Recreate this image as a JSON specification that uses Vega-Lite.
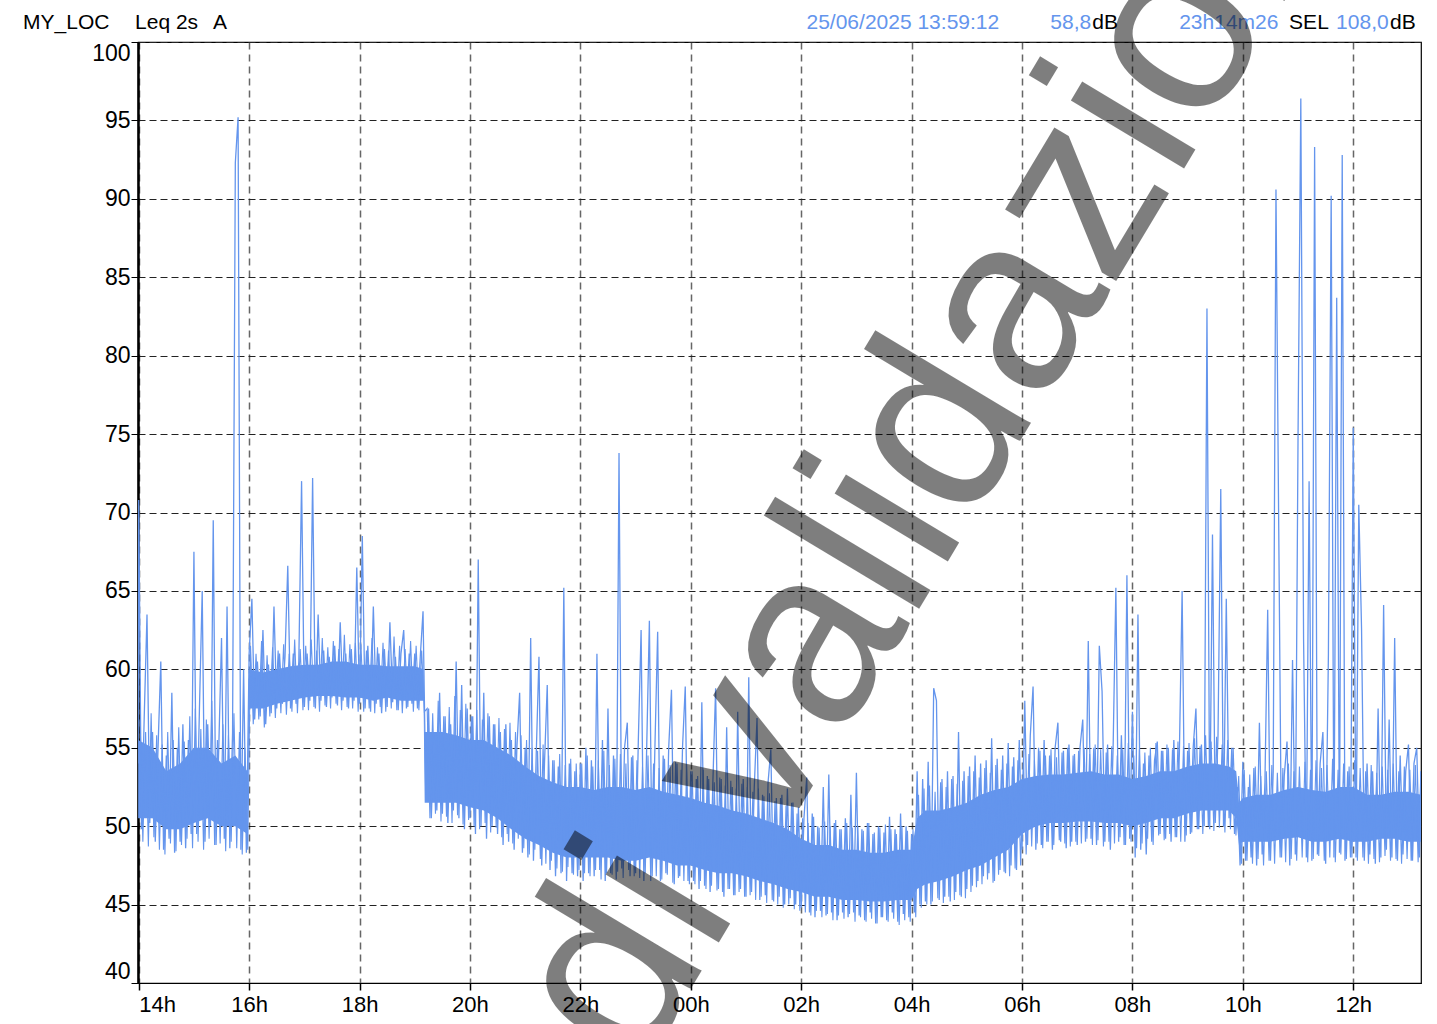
{
  "$schema": "https://vega.github.io/schema/vega-lite/v6.json",
  "width": 1283,
  "height": 941,
  "autosize": {"type": "none"},
  "padding": {"left": 138, "top": 42, "right": 16, "bottom": 41},
  "background": "white",
  "config": {
    "view": {"stroke": "black", "strokeWidth": 1.2},
    "font": "Liberation Sans",
    "text": {"font": "Liberation Sans"}
  },
  "datasets": {
    "core": [
      {"h":13.99,"lo":50.5,"hi":55.5},{"h":14.25,"lo":50.5,"hi":55},{"h":14.5,"lo":49.8,"hi":53.5},{"h":14.75,"lo":49.8,"hi":54},
      {"h":15.0,"lo":50.2,"hi":55},{"h":15.25,"lo":50.5,"hi":55},{"h":15.5,"lo":50,"hi":54},{"h":15.75,"lo":50,"hi":54.5},{"h":15.97,"lo":49.5,"hi":53.5},
      {"h":16.0,"lo":57.5,"hi":60},{"h":16.25,"lo":57.5,"hi":59.8},{"h":16.5,"lo":57.8,"hi":60},{"h":16.75,"lo":58,"hi":60.2},
      {"h":17.0,"lo":58.2,"hi":60.3},{"h":17.25,"lo":58.3,"hi":60.3},{"h":17.5,"lo":58.3,"hi":60.5},{"h":17.75,"lo":58.2,"hi":60.5},
      {"h":18.0,"lo":58.2,"hi":60.3},{"h":18.25,"lo":58,"hi":60.3},{"h":18.5,"lo":58.2,"hi":60.2},{"h":18.75,"lo":58,"hi":60.2},
      {"h":19.0,"lo":58,"hi":60.2},{"h":19.16,"lo":58,"hi":60},{"h":19.18,"lo":51.5,"hi":56},{"h":19.5,"lo":51.5,"hi":56},{"h":19.75,"lo":51.5,"hi":55.8},
      {"h":20.0,"lo":51.2,"hi":55.5},{"h":20.25,"lo":51,"hi":55.5},{"h":20.5,"lo":50.5,"hi":55},{"h":20.75,"lo":49.8,"hi":54.5},
      {"h":21.0,"lo":49.2,"hi":53.8},{"h":21.25,"lo":48.8,"hi":53.2},{"h":21.5,"lo":48.3,"hi":52.8},{"h":21.75,"lo":48,"hi":52.5},
      {"h":22.0,"lo":48,"hi":52.5},{"h":22.25,"lo":48,"hi":52.3},{"h":22.5,"lo":48,"hi":52.5},{"h":22.75,"lo":47.8,"hi":52.5},
      {"h":23.0,"lo":47.8,"hi":52.3},{"h":23.25,"lo":48,"hi":52.5},{"h":23.5,"lo":47.8,"hi":52.2},{"h":23.75,"lo":47.5,"hi":52},
      {"h":24.0,"lo":47.5,"hi":51.8},{"h":24.25,"lo":47.2,"hi":51.5},{"h":24.5,"lo":47,"hi":51.3},{"h":24.75,"lo":47,"hi":51},
      {"h":25.0,"lo":46.8,"hi":50.8},{"h":25.25,"lo":46.5,"hi":50.5},{"h":25.5,"lo":46.3,"hi":50.2},{"h":25.75,"lo":46,"hi":49.8},
      {"h":26.0,"lo":45.8,"hi":49.2},{"h":26.25,"lo":45.5,"hi":48.8},{"h":26.5,"lo":45.5,"hi":48.8},{"h":26.75,"lo":45.3,"hi":48.5},
      {"h":27.0,"lo":45.3,"hi":48.5},{"h":27.25,"lo":45.2,"hi":48.3},{"h":27.5,"lo":45.2,"hi":48.3},{"h":27.75,"lo":45.3,"hi":48.5},
      {"h":28.0,"lo":45.3,"hi":48.5},{"h":28.1,"lo":46,"hi":50.5},{"h":28.25,"lo":46.3,"hi":51},{"h":28.5,"lo":46.5,"hi":51},{"h":28.75,"lo":46.8,"hi":51.2},
      {"h":29.0,"lo":47.2,"hi":51.5},{"h":29.25,"lo":47.5,"hi":52},{"h":29.5,"lo":48,"hi":52.3},{"h":29.75,"lo":48.5,"hi":52.5},
      {"h":30.0,"lo":49.5,"hi":53},{"h":30.25,"lo":50,"hi":53.2},{"h":30.5,"lo":50.2,"hi":53.3},{"h":30.75,"lo":50.2,"hi":53.3},
      {"h":31.0,"lo":50.3,"hi":53.4},{"h":31.25,"lo":50.3,"hi":53.5},{"h":31.5,"lo":50.2,"hi":53.3},{"h":31.75,"lo":50.2,"hi":53.3},
      {"h":32.0,"lo":50,"hi":53},{"h":32.25,"lo":50.2,"hi":53.2},{"h":32.5,"lo":50.5,"hi":53.5},{"h":32.75,"lo":50.5,"hi":53.5},
      {"h":33.0,"lo":50.8,"hi":53.8},{"h":33.25,"lo":51,"hi":54},{"h":33.5,"lo":51,"hi":54},{"h":33.75,"lo":51,"hi":53.8},{"h":33.88,"lo":50.5,"hi":53.5},
      {"h":33.93,"lo":48.8,"hi":51.5},{"h":34.0,"lo":49,"hi":51.8},{"h":34.25,"lo":49,"hi":52},{"h":34.5,"lo":49,"hi":52},{"h":34.75,"lo":49.2,"hi":52.3},
      {"h":35.0,"lo":49.3,"hi":52.5},{"h":35.25,"lo":49,"hi":52.3},{"h":35.5,"lo":49,"hi":52.2},{"h":35.75,"lo":49.2,"hi":52.5},
      {"h":36.0,"lo":49,"hi":52.5},{"h":36.25,"lo":49,"hi":52},{"h":36.5,"lo":49.2,"hi":52},{"h":36.75,"lo":49.2,"hi":52.2},
      {"h":37.0,"lo":49,"hi":52.2},{"h":37.227,"lo":49,"hi":52}
    ],
    "fringe": [
      {"h":14.025,"v":56.8},{"h":14.075,"v":49},{"h":14.125,"v":56},{"h":14.175,"v":48.7},{"h":14.225,"v":57.2},{"h":14.275,"v":49.3},{"h":14.325,"v":55.8},{"h":14.375,"v":48.5},{"h":14.425,"v":55.2},{"h":14.475,"v":48.2},{"h":14.525,"v":56},{"h":14.575,"v":48.9},{"h":14.625,"v":55.5},{"h":14.675,"v":48.4},{"h":14.725,"v":56.3},{"h":14.775,"v":48.8},{"h":14.825,"v":55.4},{"h":14.875,"v":49.2},{"h":14.925,"v":57},{"h":14.975,"v":48.6},
      {"h":15.025,"v":57.5},{"h":15.075,"v":49},{"h":15.125,"v":56.2},{"h":15.175,"v":48.5},{"h":15.225,"v":56.8},{"h":15.275,"v":49.2},{"h":15.325,"v":58},{"h":15.375,"v":48.8},{"h":15.425,"v":55.5},{"h":15.475,"v":48.9},{"h":15.525,"v":56.5},{"h":15.575,"v":48.4},{"h":15.625,"v":55.8},{"h":15.675,"v":49},{"h":15.725,"v":57.2},{"h":15.775,"v":48.6},{"h":15.825,"v":56},{"h":15.875,"v":48.2},{"h":15.925,"v":55},{"h":15.975,"v":48.5},
      {"h":16.025,"v":61.5},{"h":16.075,"v":56.5},{"h":16.125,"v":61},{"h":16.175,"v":56.8},{"h":16.225,"v":61.8},{"h":16.275,"v":56.3},{"h":16.325,"v":60.9},{"h":16.375,"v":57},{"h":16.425,"v":61.4},{"h":16.475,"v":56.9},{"h":16.525,"v":61.2},{"h":16.575,"v":57.2},{"h":16.625,"v":61.6},{"h":16.675,"v":57.1},{"h":16.725,"v":61},{"h":16.775,"v":57.3},{"h":16.825,"v":61.9},{"h":16.875,"v":57.2},{"h":16.925,"v":61.3},{"h":16.975,"v":57.4},
      {"h":17.025,"v":61.5},{"h":17.075,"v":57.4},{"h":17.125,"v":61.9},{"h":17.175,"v":57.6},{"h":17.225,"v":61.2},{"h":17.275,"v":57.3},{"h":17.325,"v":62},{"h":17.375,"v":57.7},{"h":17.425,"v":61.4},{"h":17.475,"v":57.5},{"h":17.525,"v":61.8},{"h":17.575,"v":57.8},{"h":17.625,"v":61.3},{"h":17.675,"v":57.4},{"h":17.725,"v":62.2},{"h":17.775,"v":57.6},{"h":17.825,"v":61.6},{"h":17.875,"v":57.5},{"h":17.925,"v":61.7},{"h":17.975,"v":57.3},
      {"h":18.025,"v":61.6},{"h":18.075,"v":57.3},{"h":18.125,"v":61.2},{"h":18.175,"v":57.5},{"h":18.225,"v":62},{"h":18.275,"v":57.2},{"h":18.325,"v":61.4},{"h":18.375,"v":57.6},{"h":18.425,"v":61.7},{"h":18.475,"v":57.3},{"h":18.525,"v":61.2},{"h":18.575,"v":57.5},{"h":18.625,"v":62.1},{"h":18.675,"v":57.4},{"h":18.725,"v":61.5},{"h":18.775,"v":57.2},{"h":18.825,"v":61.3},{"h":18.875,"v":57.6},{"h":18.925,"v":61.8},{"h":18.975,"v":57.3},
      {"h":19.025,"v":61.5},{"h":19.075,"v":57.4},{"h":19.125,"v":61.2},{"h":19.175,"v":57.3},{"h":19.225,"v":57.5},{"h":19.275,"v":50.5},{"h":19.325,"v":57.2},{"h":19.375,"v":50.8},{"h":19.425,"v":58},{"h":19.475,"v":50.3},{"h":19.525,"v":57},{"h":19.575,"v":50.6},{"h":19.625,"v":57.6},{"h":19.675,"v":50.2},{"h":19.725,"v":58.3},{"h":19.775,"v":50.7},{"h":19.825,"v":57.4},{"h":19.875,"v":50.1},{"h":19.925,"v":57.8},{"h":19.975,"v":50.4},
      {"h":20.025,"v":57},{"h":20.075,"v":50},{"h":20.125,"v":57.4},{"h":20.175,"v":49.8},{"h":20.225,"v":56.8},{"h":20.275,"v":50.2},{"h":20.325,"v":57.2},{"h":20.375,"v":49.6},{"h":20.425,"v":56.5},{"h":20.475,"v":49.9},{"h":20.525,"v":56.9},{"h":20.575,"v":49.3},{"h":20.625,"v":56.2},{"h":20.675,"v":49.5},{"h":20.725,"v":56.6},{"h":20.775,"v":48.9},{"h":20.825,"v":56},{"h":20.875,"v":49.2},{"h":20.925,"v":55.8},{"h":20.975,"v":48.6},
      {"h":21.025,"v":55.5},{"h":21.075,"v":48.2},{"h":21.125,"v":55},{"h":21.175,"v":48.5},{"h":21.225,"v":54.8},{"h":21.275,"v":47.9},{"h":21.325,"v":55.2},{"h":21.375,"v":47.6},{"h":21.425,"v":54.5},{"h":21.475,"v":47.8},{"h":21.525,"v":54.2},{"h":21.575,"v":47.3},{"h":21.625,"v":54.6},{"h":21.675,"v":47.1},{"h":21.725,"v":53.9},{"h":21.775,"v":47.4},{"h":21.825,"v":54.3},{"h":21.875,"v":46.9},{"h":21.925,"v":54},{"h":21.975,"v":47.2},
      {"h":22.025,"v":54},{"h":22.075,"v":47},{"h":22.125,"v":54.5},{"h":22.175,"v":46.8},{"h":22.225,"v":53.8},{"h":22.275,"v":47.2},{"h":22.325,"v":54.2},{"h":22.375,"v":46.6},{"h":22.425,"v":54.8},{"h":22.475,"v":47},{"h":22.525,"v":53.9},{"h":22.575,"v":46.9},{"h":22.625,"v":54.3},{"h":22.675,"v":47.1},{"h":22.725,"v":54.6},{"h":22.775,"v":46.7},{"h":22.825,"v":54},{"h":22.875,"v":47.2},{"h":22.925,"v":54.4},{"h":22.975,"v":46.8},
      {"h":23.025,"v":54.2},{"h":23.075,"v":46.7},{"h":23.125,"v":53.8},{"h":23.175,"v":47},{"h":23.225,"v":54.5},{"h":23.275,"v":46.5},{"h":23.325,"v":54},{"h":23.375,"v":46.8},{"h":23.425,"v":53.7},{"h":23.475,"v":46.6},{"h":23.525,"v":54.3},{"h":23.575,"v":46.9},{"h":23.625,"v":53.9},{"h":23.675,"v":46.4},{"h":23.725,"v":54.1},{"h":23.775,"v":46.7},{"h":23.825,"v":53.6},{"h":23.875,"v":46.5},{"h":23.925,"v":53.9},{"h":23.975,"v":46.3},
      {"h":24.025,"v":53.5},{"h":24.075,"v":46.3},{"h":24.125,"v":53.2},{"h":24.175,"v":46.5},{"h":24.225,"v":53.6},{"h":24.275,"v":46},{"h":24.325,"v":53},{"h":24.375,"v":46.2},{"h":24.425,"v":52.8},{"h":24.475,"v":45.9},{"h":24.525,"v":53.1},{"h":24.575,"v":45.8},{"h":24.625,"v":52.6},{"h":24.675,"v":46},{"h":24.725,"v":52.9},{"h":24.775,"v":45.6},{"h":24.825,"v":52.4},{"h":24.875,"v":45.8},{"h":24.925,"v":52.7},{"h":24.975,"v":45.5},
      {"h":25.025,"v":52.5},{"h":25.075,"v":45.6},{"h":25.125,"v":52.2},{"h":25.175,"v":45.3},{"h":25.225,"v":52.4},{"h":25.275,"v":45.5},{"h":25.325,"v":51.9},{"h":25.375,"v":45.1},{"h":25.425,"v":52.1},{"h":25.475,"v":45.3},{"h":25.525,"v":51.6},{"h":25.575,"v":45},{"h":25.625,"v":51.8},{"h":25.675,"v":44.8},{"h":25.725,"v":51.3},{"h":25.775,"v":45},{"h":25.825,"v":51.5},{"h":25.875,"v":44.7},{"h":25.925,"v":50.8},{"h":25.975,"v":44.6},
      {"h":26.025,"v":50.5},{"h":26.075,"v":44.5},{"h":26.125,"v":50.2},{"h":26.175,"v":44.3},{"h":26.225,"v":50.6},{"h":26.275,"v":44.6},{"h":26.325,"v":49.9},{"h":26.375,"v":44.2},{"h":26.425,"v":50.3},{"h":26.475,"v":44.4},{"h":26.525,"v":50},{"h":26.575,"v":44},{"h":26.625,"v":50.4},{"h":26.675,"v":44.3},{"h":26.725,"v":49.8},{"h":26.775,"v":44.1},{"h":26.825,"v":50.2},{"h":26.875,"v":44.4},{"h":26.925,"v":49.9},{"h":26.975,"v":43.9},
      {"h":27.025,"v":50},{"h":27.075,"v":44.2},{"h":27.125,"v":49.7},{"h":27.175,"v":43.9},{"h":27.225,"v":50.2},{"h":27.275,"v":44.1},{"h":27.325,"v":49.6},{"h":27.375,"v":43.8},{"h":27.425,"v":49.9},{"h":27.475,"v":44.2},{"h":27.525,"v":50.1},{"h":27.575,"v":43.9},{"h":27.625,"v":49.8},{"h":27.675,"v":44.1},{"h":27.725,"v":49.5},{"h":27.775,"v":43.7},{"h":27.825,"v":50},{"h":27.875,"v":44},{"h":27.925,"v":49.7},{"h":27.975,"v":43.9},
      {"h":28.025,"v":49.8},{"h":28.075,"v":44.2},{"h":28.125,"v":52},{"h":28.175,"v":44.8},{"h":28.225,"v":52.4},{"h":28.275,"v":45},{"h":28.325,"v":52.6},{"h":28.375,"v":45.2},{"h":28.425,"v":52.2},{"h":28.475,"v":45.4},{"h":28.525,"v":52.8},{"h":28.575,"v":45.1},{"h":28.625,"v":52.5},{"h":28.675,"v":45.5},{"h":28.725,"v":53},{"h":28.775,"v":45.3},{"h":28.825,"v":52.7},{"h":28.875,"v":45.6},{"h":28.925,"v":52.9},{"h":28.975,"v":45.4},
      {"h":29.025,"v":53.2},{"h":29.075,"v":45.8},{"h":29.125,"v":53.5},{"h":29.175,"v":46.1},{"h":29.225,"v":53.1},{"h":29.275,"v":46.3},{"h":29.325,"v":53.7},{"h":29.375,"v":46.6},{"h":29.425,"v":53.4},{"h":29.475,"v":46.4},{"h":29.525,"v":53.9},{"h":29.575,"v":46.9},{"h":29.625,"v":53.6},{"h":29.675,"v":47.1},{"h":29.725,"v":54},{"h":29.775,"v":46.8},{"h":29.825,"v":53.8},{"h":29.875,"v":47.3},{"h":29.925,"v":54.2},{"h":29.975,"v":47.5},
      {"h":30.025,"v":54.3},{"h":30.075,"v":48.2},{"h":30.125,"v":54.6},{"h":30.175,"v":48.7},{"h":30.225,"v":54.2},{"h":30.275,"v":48.9},{"h":30.325,"v":54.8},{"h":30.375,"v":48.6},{"h":30.425,"v":54.5},{"h":30.475,"v":49},{"h":30.525,"v":54.9},{"h":30.575,"v":48.8},{"h":30.625,"v":54.4},{"h":30.675,"v":49.1},{"h":30.725,"v":54.7},{"h":30.775,"v":48.9},{"h":30.825,"v":55},{"h":30.875,"v":48.7},{"h":30.925,"v":54.5},{"h":30.975,"v":49},
      {"h":31.025,"v":54.8},{"h":31.075,"v":48.9},{"h":31.125,"v":55},{"h":31.175,"v":49.2},{"h":31.225,"v":54.6},{"h":31.275,"v":48.8},{"h":31.325,"v":55.2},{"h":31.375,"v":49.1},{"h":31.425,"v":54.9},{"h":31.475,"v":48.7},{"h":31.525,"v":54.7},{"h":31.575,"v":49},{"h":31.625,"v":55.1},{"h":31.675,"v":48.9},{"h":31.725,"v":54.5},{"h":31.775,"v":49.3},{"h":31.825,"v":54.9},{"h":31.875,"v":48.8},{"h":31.925,"v":55.3},{"h":31.975,"v":49},
      {"h":32.025,"v":54.5},{"h":32.075,"v":48.6},{"h":32.125,"v":54.9},{"h":32.175,"v":48.9},{"h":32.225,"v":54.7},{"h":32.275,"v":49.2},{"h":32.325,"v":55},{"h":32.375,"v":48.8},{"h":32.425,"v":55.3},{"h":32.475,"v":49.4},{"h":32.525,"v":54.8},{"h":32.575,"v":49.1},{"h":32.625,"v":55.2},{"h":32.675,"v":49.5},{"h":32.725,"v":54.9},{"h":32.775,"v":49.3},{"h":32.825,"v":55.4},{"h":32.875,"v":49},{"h":32.925,"v":55.1},{"h":32.975,"v":49.4},
      {"h":33.025,"v":55.3},{"h":33.075,"v":49.6},{"h":33.125,"v":55.6},{"h":33.175,"v":49.8},{"h":33.225,"v":55.1},{"h":33.275,"v":49.5},{"h":33.325,"v":55.8},{"h":33.375,"v":50},{"h":33.425,"v":55.4},{"h":33.475,"v":49.7},{"h":33.525,"v":55.7},{"h":33.575,"v":49.9},{"h":33.625,"v":55.2},{"h":33.675,"v":49.6},{"h":33.725,"v":55.5},{"h":33.775,"v":49.8},{"h":33.825,"v":55},{"h":33.875,"v":49.4},{"h":33.925,"v":53.2},{"h":33.975,"v":47.6},
      {"h":34.025,"v":53.6},{"h":34.075,"v":47.8},{"h":34.125,"v":53.3},{"h":34.175,"v":47.6},{"h":34.225,"v":53.8},{"h":34.275,"v":47.9},{"h":34.325,"v":53.2},{"h":34.375,"v":47.5},{"h":34.425,"v":53.5},{"h":34.475,"v":47.8},{"h":34.525,"v":53.9},{"h":34.575,"v":47.6},{"h":34.625,"v":53.4},{"h":34.675,"v":48},{"h":34.725,"v":53.7},{"h":34.775,"v":47.7},{"h":34.825,"v":54},{"h":34.875,"v":47.9},{"h":34.925,"v":53.5},{"h":34.975,"v":47.8},
      {"h":35.025,"v":53.8},{"h":35.075,"v":48},{"h":35.125,"v":54.1},{"h":35.175,"v":47.7},{"h":35.225,"v":53.6},{"h":35.275,"v":47.9},{"h":35.325,"v":54.2},{"h":35.375,"v":48.1},{"h":35.425,"v":53.7},{"h":35.475,"v":47.8},{"h":35.525,"v":53.9},{"h":35.575,"v":48},{"h":35.625,"v":54.3},{"h":35.675,"v":47.7},{"h":35.725,"v":53.6},{"h":35.775,"v":48.2},{"h":35.825,"v":54},{"h":35.875,"v":47.9},{"h":35.925,"v":53.8},{"h":35.975,"v":48},
      {"h":36.025,"v":54.2},{"h":36.075,"v":47.8},{"h":36.125,"v":53.7},{"h":36.175,"v":48},{"h":36.225,"v":53.5},{"h":36.275,"v":47.6},{"h":36.325,"v":53.9},{"h":36.375,"v":47.9},{"h":36.425,"v":53.4},{"h":36.475,"v":47.7},{"h":36.525,"v":53.8},{"h":36.575,"v":48.1},{"h":36.625,"v":53.6},{"h":36.675,"v":47.8},{"h":36.725,"v":54},{"h":36.775,"v":47.9},{"h":36.825,"v":53.5},{"h":36.875,"v":47.6},{"h":36.925,"v":53.8},{"h":36.975,"v":47.9},
      {"h":37.025,"v":53.6},{"h":37.075,"v":47.8},{"h":37.125,"v":53.9},{"h":37.175,"v":47.7},{"h":37.225,"v":53.5}
    ],
    "series": [
      {"h":13.99,"v":54},
      {"h":14.00,"v":70.8},{"h":14.05,"v":49.8},{"h":14.10,"v":57},{"h":14.15,"v":63.5},{"h":14.20,"v":50.2},{"h":14.25,"v":56},{"h":14.30,"v":49},{"h":14.35,"v":55},{"h":14.40,"v":60.5},{"h":14.45,"v":48.5},{"h":14.50,"v":54.5},{"h":14.55,"v":49.2},{"h":14.60,"v":58.5},{"h":14.65,"v":48.3},{"h":14.70,"v":55},{"h":14.75,"v":49},{"h":14.80,"v":56.5},{"h":14.85,"v":48.6},{"h":14.90,"v":55.5},{"h":14.95,"v":49.5},
      {"h":15.00,"v":67.5},{"h":15.05,"v":49.5},{"h":15.10,"v":57.5},{"h":15.15,"v":65},{"h":15.20,"v":49},{"h":15.25,"v":56.5},{"h":15.30,"v":50},{"h":15.35,"v":69.5},{"h":15.40,"v":48.8},{"h":15.45,"v":55},{"h":15.50,"v":62},{"h":15.55,"v":49.2},{"h":15.60,"v":64},{"h":15.65,"v":48.6},{"h":15.70,"v":56},{"h":15.75,"v":92.3},{"h":15.80,"v":95.2},{"h":15.85,"v":48.5},{"h":15.90,"v":60},{"h":15.95,"v":48.3},
      {"h":16.00,"v":61},{"h":16.05,"v":64.5},{"h":16.10,"v":56.8},{"h":16.15,"v":60.5},{"h":16.20,"v":57},{"h":16.25,"v":62.5},{"h":16.30,"v":56.5},{"h":16.35,"v":60.3},{"h":16.40,"v":57.2},{"h":16.45,"v":64},{"h":16.50,"v":57.5},{"h":16.55,"v":61},{"h":16.60,"v":57.8},{"h":16.65,"v":60.8},{"h":16.70,"v":66.6},{"h":16.75,"v":57.5},{"h":16.80,"v":61},{"h":16.85,"v":57.8},{"h":16.90,"v":60.5},{"h":16.95,"v":72},
      {"h":17.00,"v":57.6},{"h":17.05,"v":61},{"h":17.10,"v":58},{"h":17.15,"v":72.2},{"h":17.20,"v":57.5},{"h":17.25,"v":63.5},{"h":17.30,"v":58},{"h":17.35,"v":61.2},{"h":17.40,"v":57.6},{"h":17.45,"v":60.8},{"h":17.50,"v":58.2},{"h":17.55,"v":61.5},{"h":17.60,"v":57.7},{"h":17.65,"v":63},{"h":17.70,"v":58},{"h":17.75,"v":61},{"h":17.80,"v":57.5},{"h":17.85,"v":61.3},{"h":17.90,"v":58},{"h":17.95,"v":66.5},
      {"h":18.00,"v":57.8},{"h":18.05,"v":68.5},{"h":18.10,"v":57.5},{"h":18.15,"v":61.5},{"h":18.20,"v":57.3},{"h":18.25,"v":64},{"h":18.30,"v":57.8},{"h":18.35,"v":61},{"h":18.40,"v":57.2},{"h":18.45,"v":61.3},{"h":18.50,"v":57.6},{"h":18.55,"v":63},{"h":18.60,"v":57.9},{"h":18.65,"v":60.8},{"h":18.70,"v":57.4},{"h":18.75,"v":61},{"h":18.80,"v":62.5},{"h":18.85,"v":57.5},{"h":18.90,"v":61},{"h":18.95,"v":57.8},
      {"h":19.00,"v":61},{"h":19.05,"v":57.5},{"h":19.10,"v":60.8},{"h":19.15,"v":63.7},{"h":19.20,"v":52},{"h":19.25,"v":57.5},{"h":19.30,"v":50.5},{"h":19.35,"v":56},{"h":19.40,"v":51},{"h":19.45,"v":58.5},{"h":19.50,"v":50.8},{"h":19.55,"v":57},{"h":19.60,"v":50.2},{"h":19.65,"v":56.5},{"h":19.70,"v":51},{"h":19.75,"v":60.5},{"h":19.80,"v":50.5},{"h":19.85,"v":59},{"h":19.90,"v":49.8},{"h":19.95,"v":57.5},
      {"h":20.00,"v":50.5},{"h":20.05,"v":57},{"h":20.10,"v":49.5},{"h":20.15,"v":67},{"h":20.20,"v":50},{"h":20.25,"v":58.5},{"h":20.30,"v":49.2},{"h":20.35,"v":57},{"h":20.40,"v":50},{"h":20.45,"v":56.5},{"h":20.50,"v":49.5},{"h":20.55,"v":56},{"h":20.60,"v":48.8},{"h":20.65,"v":56.5},{"h":20.70,"v":49},{"h":20.75,"v":55.5},{"h":20.80,"v":48.5},{"h":20.85,"v":55},{"h":20.90,"v":58.5},{"h":20.95,"v":48.3},
      {"h":21.00,"v":55},{"h":21.05,"v":48},{"h":21.10,"v":62},{"h":21.15,"v":47.8},{"h":21.20,"v":54.5},{"h":21.25,"v":60.8},{"h":21.30,"v":47.5},{"h":21.35,"v":54},{"h":21.40,"v":59},{"h":21.45,"v":47.2},{"h":21.50,"v":54.2},{"h":21.55,"v":46.8},{"h":21.60,"v":53.8},{"h":21.65,"v":47},{"h":21.70,"v":65.2},{"h":21.75,"v":46.5},{"h":21.80,"v":54},{"h":21.85,"v":47},{"h":21.90,"v":53.5},{"h":21.95,"v":46.8},
      {"h":22.00,"v":54},{"h":22.05,"v":46.5},{"h":22.10,"v":55},{"h":22.15,"v":47},{"h":22.20,"v":54.2},{"h":22.25,"v":46.8},{"h":22.30,"v":61},{"h":22.35,"v":47.2},{"h":22.40,"v":55.5},{"h":22.45,"v":46.5},{"h":22.50,"v":57.5},{"h":22.55,"v":47},{"h":22.60,"v":54.5},{"h":22.65,"v":46.6},{"h":22.70,"v":73.8},{"h":22.75,"v":47.3},{"h":22.80,"v":55},{"h":22.85,"v":56.6},{"h":22.90,"v":46.8},{"h":22.95,"v":54.5},
      {"h":23.00,"v":47},{"h":23.05,"v":55.5},{"h":23.10,"v":62.5},{"h":23.15,"v":46.5},{"h":23.20,"v":54.8},{"h":23.25,"v":63.1},{"h":23.30,"v":46.8},{"h":23.35,"v":55},{"h":23.40,"v":62.4},{"h":23.45,"v":46.5},{"h":23.50,"v":54.5},{"h":23.55,"v":47},{"h":23.60,"v":55},{"h":23.65,"v":58.7},{"h":23.70,"v":46.3},{"h":23.75,"v":54},{"h":23.80,"v":46.8},{"h":23.85,"v":55},{"h":23.90,"v":58.9},{"h":23.95,"v":46.5},
      {"h":24.00,"v":53.5},{"h":24.05,"v":46.5},{"h":24.10,"v":53},{"h":24.15,"v":46},{"h":24.20,"v":57.9},{"h":24.25,"v":46.2},{"h":24.30,"v":53.2},{"h":24.35,"v":45.8},{"h":24.40,"v":52.8},{"h":24.45,"v":58.8},{"h":24.50,"v":46},{"h":24.55,"v":53},{"h":24.60,"v":45.5},{"h":24.65,"v":56.3},{"h":24.70,"v":46},{"h":24.75,"v":52.5},{"h":24.80,"v":45.6},{"h":24.85,"v":57.3},{"h":24.90,"v":46},{"h":24.95,"v":53},
      {"h":25.00,"v":45.5},{"h":25.05,"v":59.5},{"h":25.10,"v":45.8},{"h":25.15,"v":52.5},{"h":25.20,"v":56.9},{"h":25.25,"v":45.3},{"h":25.30,"v":52},{"h":25.35,"v":45.6},{"h":25.40,"v":52.8},{"h":25.45,"v":54.9},{"h":25.50,"v":45.2},{"h":25.55,"v":51.8},{"h":25.60,"v":45.5},{"h":25.65,"v":52},{"h":25.70,"v":45},{"h":25.75,"v":52.4},{"h":25.80,"v":45.4},{"h":25.85,"v":51.5},{"h":25.90,"v":45},{"h":25.95,"v":51.2},
      {"h":26.00,"v":44.8},{"h":26.05,"v":50.5},{"h":26.10,"v":53.1},{"h":26.15,"v":44.5},{"h":26.20,"v":50.8},{"h":26.25,"v":44.2},{"h":26.30,"v":50},{"h":26.35,"v":44.6},{"h":26.40,"v":52.5},{"h":26.45,"v":44.3},{"h":26.50,"v":53.3},{"h":26.55,"v":44.5},{"h":26.60,"v":50.2},{"h":26.65,"v":44},{"h":26.70,"v":49.8},{"h":26.75,"v":44.5},{"h":26.80,"v":50.5},{"h":26.85,"v":44.2},{"h":26.90,"v":52},{"h":26.95,"v":44.5},
      {"h":27.00,"v":53.4},{"h":27.05,"v":44.3},{"h":27.10,"v":49.8},{"h":27.15,"v":44},{"h":27.20,"v":50.2},{"h":27.25,"v":44.5},{"h":27.30,"v":49.5},{"h":27.35,"v":43.8},{"h":27.40,"v":50},{"h":27.45,"v":44.2},{"h":27.50,"v":49.6},{"h":27.55,"v":44},{"h":27.60,"v":50.6},{"h":27.65,"v":44.5},{"h":27.70,"v":49.8},{"h":27.75,"v":43.9},{"h":27.80,"v":50.8},{"h":27.85,"v":44.4},{"h":27.90,"v":50},{"h":27.95,"v":44.2},
      {"h":28.00,"v":49.5},{"h":28.05,"v":44.5},{"h":28.10,"v":53.5},{"h":28.15,"v":45},{"h":28.20,"v":53},{"h":28.25,"v":45.2},{"h":28.30,"v":54.1},{"h":28.35,"v":45},{"h":28.40,"v":58.8},{"h":28.45,"v":58},{"h":28.50,"v":45.3},{"h":28.55,"v":53},{"h":28.60,"v":45.5},{"h":28.65,"v":53.5},{"h":28.70,"v":45.2},{"h":28.75,"v":53.2},{"h":28.80,"v":45.8},{"h":28.85,"v":56},{"h":28.90,"v":45.5},{"h":28.95,"v":53.5},
      {"h":29.00,"v":46},{"h":29.05,"v":53.8},{"h":29.10,"v":46.2},{"h":29.15,"v":54.5},{"h":29.20,"v":46.5},{"h":29.25,"v":54},{"h":29.30,"v":46.8},{"h":29.35,"v":54.2},{"h":29.40,"v":47},{"h":29.45,"v":55.6},{"h":29.50,"v":46.5},{"h":29.55,"v":54.3},{"h":29.60,"v":47.2},{"h":29.65,"v":54.5},{"h":29.70,"v":47},{"h":29.75,"v":55.3},{"h":29.80,"v":47.5},{"h":29.85,"v":54.4},{"h":29.90,"v":47.2},{"h":29.95,"v":55.5},
      {"h":30.00,"v":48.5},{"h":30.05,"v":58},{"h":30.10,"v":48.8},{"h":30.15,"v":55.8},{"h":30.20,"v":58.9},{"h":30.25,"v":48.5},{"h":30.30,"v":55},{"h":30.35,"v":48.8},{"h":30.40,"v":55.5},{"h":30.45,"v":49},{"h":30.50,"v":54.5},{"h":30.55,"v":48.5},{"h":30.60,"v":55},{"h":30.65,"v":56.6},{"h":30.70,"v":49},{"h":30.75,"v":54.8},{"h":30.80,"v":48.6},{"h":30.85,"v":55.2},{"h":30.90,"v":49},{"h":30.95,"v":54.6},
      {"h":31.00,"v":48.8},{"h":31.05,"v":55},{"h":31.10,"v":56.8},{"h":31.15,"v":49},{"h":31.20,"v":61.8},{"h":31.25,"v":49.2},{"h":31.30,"v":55},{"h":31.35,"v":48.8},{"h":31.40,"v":61.5},{"h":31.45,"v":58.6},{"h":31.50,"v":49},{"h":31.55,"v":55.2},{"h":31.60,"v":48.5},{"h":31.65,"v":55},{"h":31.70,"v":65.2},{"h":31.75,"v":49},{"h":31.80,"v":55.8},{"h":31.85,"v":48.8},{"h":31.90,"v":66},{"h":31.95,"v":49.2},
      {"h":32.00,"v":57.3},{"h":32.05,"v":48},{"h":32.10,"v":63.5},{"h":32.15,"v":48.5},{"h":32.20,"v":54},{"h":32.25,"v":48.2},{"h":32.30,"v":54.5},{"h":32.35,"v":49},{"h":32.40,"v":54.2},{"h":32.45,"v":55.4},{"h":32.50,"v":49.5},{"h":32.55,"v":54.8},{"h":32.60,"v":49.2},{"h":32.65,"v":55},{"h":32.70,"v":49},{"h":32.75,"v":55.5},{"h":32.80,"v":49.3},{"h":32.85,"v":54.6},{"h":32.90,"v":65},{"h":32.95,"v":49},
      {"h":33.00,"v":54.8},{"h":33.05,"v":49.5},{"h":33.10,"v":55},{"h":33.15,"v":57.5},{"h":33.20,"v":49.8},{"h":33.25,"v":55.2},{"h":33.30,"v":50},{"h":33.35,"v":83},{"h":33.40,"v":49.8},{"h":33.45,"v":68.6},{"h":33.50,"v":50.2},{"h":33.55,"v":55.8},{"h":33.60,"v":71.5},{"h":33.65,"v":50},{"h":33.70,"v":64.5},{"h":33.75,"v":50.5},{"h":33.80,"v":55},{"h":33.85,"v":49.5},{"h":33.90,"v":52.5},{"h":33.95,"v":47.5},
      {"h":34.00,"v":54.1},{"h":34.05,"v":47.8},{"h":34.10,"v":52.5},{"h":34.15,"v":48},{"h":34.20,"v":53.7},{"h":34.25,"v":47.5},{"h":34.30,"v":56.6},{"h":34.35,"v":48.2},{"h":34.40,"v":52.8},{"h":34.45,"v":63.8},{"h":34.50,"v":47.8},{"h":34.55,"v":53.5},{"h":34.60,"v":90.6},{"h":34.65,"v":69},{"h":34.70,"v":48},{"h":34.75,"v":53.2},{"h":34.80,"v":55.4},{"h":34.85,"v":47.5},{"h":34.90,"v":60.6},{"h":34.95,"v":48.2},
      {"h":35.00,"v":75},{"h":35.05,"v":96.4},{"h":35.10,"v":61.9},{"h":35.15,"v":48},{"h":35.20,"v":72},{"h":35.25,"v":47.8},{"h":35.30,"v":93.3},{"h":35.35,"v":48.2},{"h":35.40,"v":54},{"h":35.45,"v":56},{"h":35.50,"v":47.6},{"h":35.55,"v":61},{"h":35.60,"v":90.2},{"h":35.65,"v":48},{"h":35.70,"v":83.7},{"h":35.75,"v":48.3},{"h":35.80,"v":92.8},{"h":35.85,"v":47.8},{"h":35.90,"v":53.5},{"h":35.95,"v":48},
      {"h":36.00,"v":75.4},{"h":36.05,"v":48},{"h":36.10,"v":70.5},{"h":36.15,"v":62.6},{"h":36.20,"v":47.8},{"h":36.25,"v":54},{"h":36.30,"v":48.2},{"h":36.35,"v":53.5},{"h":36.40,"v":47.6},{"h":36.45,"v":57.5},{"h":36.50,"v":48},{"h":36.55,"v":64.1},{"h":36.60,"v":48.5},{"h":36.65,"v":56.8},{"h":36.70,"v":48},{"h":36.75,"v":62},{"h":36.80,"v":47.8},{"h":36.85,"v":54.5},{"h":36.90,"v":48.2},{"h":36.95,"v":53.5},
      {"h":37.00,"v":55.2},{"h":37.05,"v":47.8},{"h":37.10,"v":54},{"h":37.15,"v":55},{"h":37.20,"v":48},{"h":37.227,"v":53.5}
    ],
    "header": [
      {"text":"MY_LOC","h":11.906,"v":100.83,"role":"label"},
      {"text":"Leq 2s","h":13.933,"v":100.83,"role":"label"},
      {"text":"A","h":15.344,"v":100.83,"role":"label"},
      {"text":"25/06/2025 13:59:12","h":26.096,"v":100.83,"role":"value"},
      {"text":"58,8","h":30.512,"v":100.83,"role":"value"},
      {"text":"dB","h":31.272,"v":100.83,"role":"label"},
      {"text":"23h14m26","h":32.847,"v":100.83,"role":"value"},
      {"text":"SEL","h":34.838,"v":100.83,"role":"label"},
      {"text":"108,0","h":35.689,"v":100.83,"role":"value"},
      {"text":"dB","h":36.666,"v":100.83,"role":"label"}
    ],
    "watermark": [
      {"text":"di validazione","h":23.055,"v":34.07}
    ]
  },
  "layer": [
    {
      "data": {"name": "core"},
      "mark": {"type": "area", "color": "#6495ED", "opacity": 1, "clip": true},
      "encoding": {
        "x": {
          "field": "h", "type": "quantitative",
          "scale": {"domain": [13.987, 37.227], "nice": false, "zero": false},
          "axis": {
            "title": null,
            "values": [14,16,18,20,22,24,26,28,30,32,34,36],
            "labelExpr": "format(datum.value % 24, '02d') + 'h'",
            "grid": true, "gridDash": [7,5], "gridColor": "#666666", "gridWidth": 1.5, "gridOpacity": 1,
            "domain": true, "domainColor": "black", "domainWidth": 1.2,
            "ticks": true, "tickSize": 7, "tickColor": "black", "tickWidth": 1.5,
            "labelFontSize": 22, "labelColor": "black", "labelFont": "Liberation Sans",
            "labelFlush": 5, "labelPadding": 4, "labelOverlap": false
          }
        },
        "y": {
          "field": "lo", "type": "quantitative",
          "scale": {"domain": [40, 100], "nice": false, "zero": false},
          "axis": {
            "title": null,
            "values": [40,45,50,55,60,65,70,75,80,85,90,95,100],
            "grid": true, "gridDash": [7,4], "gridColor": "#222222", "gridWidth": 1, "gridOpacity": 1,
            "domain": true, "domainColor": "black", "domainWidth": 2.5,
            "ticks": true, "tickSize": 7, "tickColor": "black", "tickWidth": 1,
            "labelFontSize": 23, "labelColor": "black", "labelFont": "Liberation Sans",
            "labelFlush": true, "labelPadding": 1, "labelOverlap": false
          }
        },
        "y2": {"field": "hi"}
      }
    },
    {
      "data": {"name": "fringe"},
      "mark": {"type": "line", "color": "#6495ED", "strokeWidth": 1.1, "clip": true},
      "encoding": {
        "x": {"field": "h", "type": "quantitative", "scale": {"domain": [13.987, 37.227], "nice": false, "zero": false}},
        "y": {"field": "v", "type": "quantitative", "scale": {"domain": [40, 100], "nice": false, "zero": false}}
      }
    },
    {
      "data": {"name": "series"},
      "mark": {"type": "line", "color": "#6495ED", "strokeWidth": 1.3, "clip": true},
      "encoding": {
        "x": {"field": "h", "type": "quantitative", "scale": {"domain": [13.987, 37.227], "nice": false, "zero": false}},
        "y": {"field": "v", "type": "quantitative", "scale": {"domain": [40, 100], "nice": false, "zero": false}}
      }
    },
    {
      "data": {"name": "header"},
      "mark": {"type": "text", "align": "left", "baseline": "alphabetic", "fontSize": 21, "clip": false},
      "encoding": {
        "x": {"field": "h", "type": "quantitative", "scale": {"domain": [13.987, 37.227], "nice": false, "zero": false}},
        "y": {"field": "v", "type": "quantitative", "scale": {"domain": [40, 100], "nice": false, "zero": false}},
        "text": {"field": "text"},
        "color": {"field": "role", "type": "nominal", "scale": {"domain": ["label","value"], "range": ["#000000","#6495ED"]}, "legend": null}
      }
    },
    {
      "data": {"name": "watermark"},
      "mark": {"type": "text", "align": "left", "baseline": "alphabetic", "fontSize": 250, "angle": 301, "color": "#000000", "opacity": 0.5, "clip": false},
      "encoding": {
        "x": {"field": "h", "type": "quantitative", "scale": {"domain": [13.987, 37.227], "nice": false, "zero": false}},
        "y": {"field": "v", "type": "quantitative", "scale": {"domain": [40, 100], "nice": false, "zero": false}},
        "text": {"field": "text"}
      }
    }
  ]
}
